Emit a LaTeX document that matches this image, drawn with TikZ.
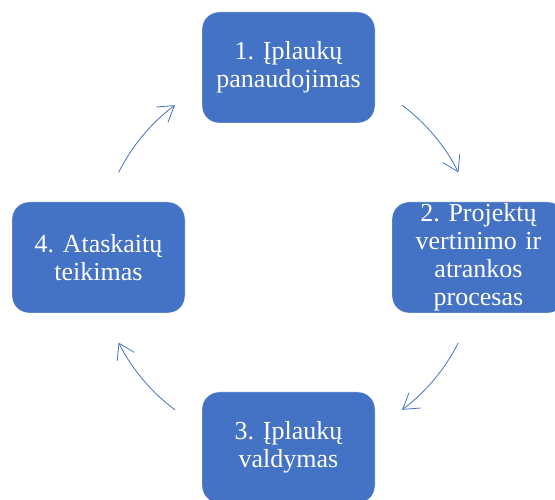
\documentclass[tikz,border=0pt]{standalone}
\usepackage{fontspec}
\setmainfont{Liberation Serif}
\usepackage{tikz}
\usetikzlibrary{arrows.meta}
\usetikzlibrary{positioning,calc}
\definecolor{smartblue}{HTML}{4472C4}
\frenchspacing

\begin{document}
\begin{tikzpicture}[
x=1pt,y=1pt,
Phase/.style={draw=white,fill=smartblue,thin,rounded corners=17pt,
  minimum width=173pt,minimum height=111pt,text width=165pt,align=center,
  text=white,inner sep=0pt,font=\fontsize{26}{28}\selectfont},
Cycle/.style={draw=smartblue,line width=0.8pt,
  -{Straight Barb[length=15pt,width=19pt]}}
]
\useasboundingbox (0,0) rectangle (555,500);
\clip (0,0) rectangle (555,500);

% centre of the cycle
\coordinate (C) at (288.5,242.5);
\pgfmathparse{190}	\let\R\pgfmathresult

\node[Phase] (use)    at ($(C)+(90:\R)$)  {1. Įplaukų\\panaudojimas};
\node[Phase] (select) at ($(C)+(0:\R)$)   {2. Projektų\\vertinimo ir\\atrankos\\procesas};
\node[Phase] (manage) at ($(C)+(-90:\R)$) {3. Įplaukų\\valdymas};
\node[Phase] (report) at ($(C)+(180:\R)$) {4. Ataskaitų\\teikimas};

% arcs between the phases
\draw[Cycle] ($(C)+(53.3:\R)$) arc[start angle=53.3, end angle=26.6, radius=\R];
\draw[Cycle] ($(C)+(-26.6:\R)$) arc[start angle=-26.6, end angle=-53.3, radius=\R];
\draw[Cycle] ($(C)+(233.3:\R)$) arc[start angle=233.3, end angle=206.6, radius=\R];
\draw[Cycle] ($(C)+(153.4:\R)$) arc[start angle=153.4, end angle=126.7, radius=\R];

\end{tikzpicture}
\end{document}
